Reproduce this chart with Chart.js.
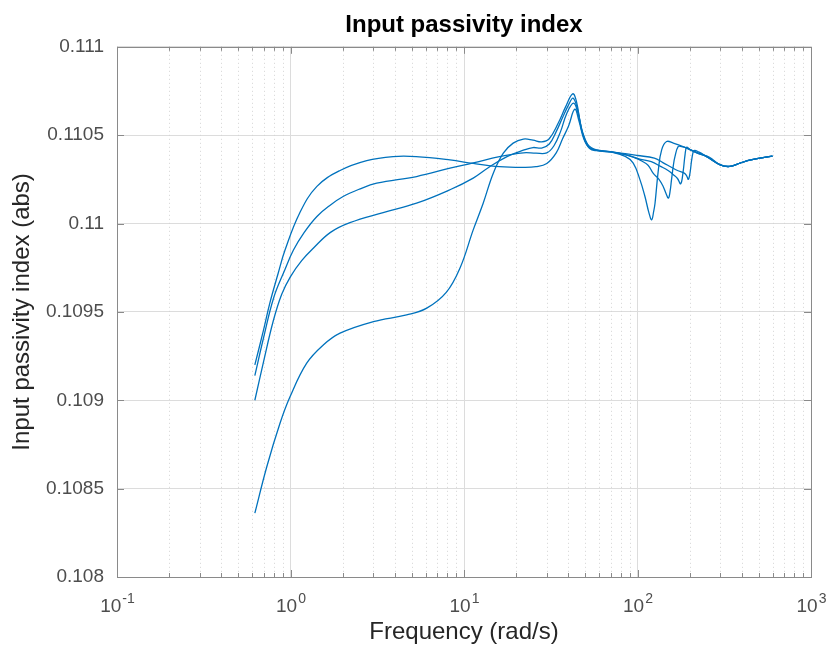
<!DOCTYPE html>
<html>
<head>
<meta charset="utf-8">
<script src="https://cdn.jsdelivr.net/npm/chart.js@4/dist/chart.umd.min.js"></script>
<style>
html, body { margin: 0; padding: 0; background: #fff; }
</style>
</head>
<body>
<canvas id="chart" width="831" height="656"></canvas>
<script>
// 4本の曲線 (周波数 rad/s と index 値)
var freqA = [0.623,0.70,0.76,0.85,0.93,1.13,1.42,1.93,2.75,3.9,5.3,8.3,11.3,16,22,26,30,34,37,40,43.5,46,49,53,58,70,85,100,125,140,154,170,186,192,196.4,201,206,212,225,250,300,340,390,450,600];
var valA = [0.10920,0.10940,0.10955,0.10972,0.10985,0.11006,0.11021,0.11030,0.110356,0.110379,0.110379,0.11036,0.11034,0.110322,0.110318,0.110322,0.11034,0.11040,0.11048,0.11055,0.110647,0.11058,0.11048,0.110425,0.110412,0.110405,0.110395,0.110385,0.11037,0.110345,0.110323,0.1103,0.110285,0.11027,0.11025,0.11029,0.11037,0.110413,0.110405,0.110379,0.110332,0.110323,0.110342,0.11036,0.110382];

var freqB = [0.623,0.70,0.80,0.92,1.04,1.2,1.42,1.7,2.01,2.5,3.14,5.33,8.3,11.3,16,22,26,30,33,36,39,42.8,45.5,48.5,53,58,70,85,103,120,136,150,161,170,177.4,183,188,192,200,230,260,300,340,390,450,600];
var valB = [0.10914,0.109355,0.10958,0.10973,0.10985,0.10995,0.11004,0.110105,0.110153,0.110195,0.110228,0.110266,0.110313,0.110343,0.110379,0.1104,0.110398,0.1104,0.11044,0.11052,0.11062,0.110681,0.11062,0.11051,0.11043,0.110414,0.110405,0.11039,0.110365,0.11035,0.110323,0.1103,0.110276,0.110255,0.110225,0.11029,0.11039,0.110432,0.11042,0.110395,0.110375,0.110332,0.110323,0.110342,0.11036,0.110381];

var freqC = [0.623,0.70,0.796,0.89,1.0,1.16,1.353,1.7,2.2,3.42,5.33,8.3,11.3,14,17.7,22,25,28,31,34,37,40,42.5,45,48,52,58,70,85,94.5,103,115,123,133,140.6,146,150.7,154,157,161,164.4,171.8,180,192,220,250,300,340,390,450,600];
var valC = [0.10900,0.10922,0.10945,0.10960,0.10970,0.10979,0.10986,0.10995,0.110005,0.110062,0.110115,0.110191,0.110257,0.11032,0.110379,0.110415,0.11043,0.110427,0.11045,0.11052,0.11060,0.11067,0.11071,0.11065,0.11052,0.110435,0.110415,0.110407,0.11039,0.110375,0.11036,0.11033,0.110285,0.11025,0.11021,0.11017,0.110144,0.11018,0.110247,0.11033,0.110379,0.110436,0.110435,0.110427,0.1104,0.110379,0.110332,0.110323,0.110342,0.11036,0.110381];

var freqD = [0.623,0.73,0.87,0.995,1.24,1.545,1.93,3.0,4.67,6.1,7.9,9.5,11.3,12.9,14.75,16.85,19.2,22,25,28,31,35,38.5,42.3,44.5,47.6,50.5,54,58,70,85,94.5,103.4,110.4,116.5,120.7,124,126.2,131.9,137.8,147.2,160.8,186,220,250,300,340,390,450,600];
var valD = [0.108361,0.108624,0.10887,0.109021,0.10921,0.109313,0.10938,0.109445,0.109483,0.109521,0.10961,0.10975,0.109964,0.110115,0.110285,0.110398,0.110455,0.110478,0.110472,0.110462,0.11048,0.11057,0.11066,0.110734,0.11069,0.11053,0.11046,0.11043,0.110417,0.110405,0.11038,0.110342,0.110247,0.110153,0.110059,0.110021,0.11007,0.110115,0.110304,0.110417,0.110464,0.110455,0.110432,0.1104,0.110379,0.110332,0.110323,0.110342,0.11036,0.110381];

// 軸目盛
var xTickValues = [0.1, 1, 10, 100, 1000];
var xTickExp = ['-1', '0', '1', '2', '3'];
var yTickValues = [0.108, 0.1085, 0.109, 0.1095, 0.11, 0.1105, 0.111];
var yTickLabels = ['0.108', '0.1085', '0.109', '0.1095', '0.11', '0.1105', '0.111'];

var FONT = "'Liberation Sans', Arial, sans-serif";
var LINE = '#0072BD';
var AXIS = '#8a8a8a';

function toPoints(xs, ys) {
    var pts = [];
    for (var i = 0; i < xs.length; i++) {
        pts.push({ x: xs[i], y: ys[i] });
    }
    return pts;
}

function minorValues() {
    var vals = [];
    for (var d = 0; d < xTickValues.length - 1; d++) {
        for (var k = 2; k <= 9; k++) {
            vals.push(xTickValues[d] * k);
        }
    }
    return vals;
}

// MATLAB風の補助グリッド・枠・内向き目盛・10^n ラベル
var matlabAxes = {
    id: 'matlabAxes',
    beforeDatasetsDraw: function (c) {
        var ctx = c.ctx, a = c.chartArea, xs = c.scales.x;
        ctx.save();
        ctx.strokeStyle = '#d4d4d4';
        ctx.lineWidth = 1;
        ctx.setLineDash([1, 3]);
        minorValues().forEach(function (v) {
            var px = Math.round(xs.getPixelForValue(v)) + 0.5;
            ctx.beginPath();
            ctx.moveTo(px, a.top);
            ctx.lineTo(px, a.bottom);
            ctx.stroke();
        });
        ctx.restore();
    },
    afterDraw: function (c) {
        var ctx = c.ctx, a = c.chartArea, xs = c.scales.x, ys = c.scales.y;
        ctx.save();
        ctx.strokeStyle = AXIS;
        ctx.lineWidth = 1;
        ctx.beginPath();
        // x 目盛 (上下)
        xTickValues.forEach(function (v) {
            var px = Math.round(xs.getPixelForValue(v)) + 0.5;
            ctx.moveTo(px, a.bottom); ctx.lineTo(px, a.bottom - 7);
            ctx.moveTo(px, a.top); ctx.lineTo(px, a.top + 7);
        });
        minorValues().forEach(function (v) {
            var px = Math.round(xs.getPixelForValue(v)) + 0.5;
            ctx.moveTo(px, a.bottom); ctx.lineTo(px, a.bottom - 4);
            ctx.moveTo(px, a.top); ctx.lineTo(px, a.top + 4);
        });
        // y 目盛 (左右)
        yTickValues.forEach(function (v) {
            var py = Math.round(ys.getPixelForValue(v)) + 0.5;
            ctx.moveTo(a.left, py); ctx.lineTo(a.left + 7, py);
            ctx.moveTo(a.right, py); ctx.lineTo(a.right - 7, py);
        });
        ctx.stroke();
        ctx.strokeRect(Math.round(a.left) + 0.5, Math.round(a.top) + 0.5,
            Math.round(a.right - a.left), Math.round(a.bottom - a.top));

        // 10^n ラベル
        ctx.fillStyle = '#4d4d4d';
        ctx.textBaseline = 'alphabetic';
        ctx.textAlign = 'left';
        xTickValues.forEach(function (v, i) {
            var px = xs.getPixelForValue(v);
            ctx.font = '19px ' + FONT;
            var wBase = ctx.measureText('10').width;
            ctx.font = '14px ' + FONT;
            var wExp = ctx.measureText(xTickExp[i]).width;
            var x0 = px - (wBase + wExp) / 2;
            ctx.font = '19px ' + FONT;
            ctx.fillText('10', x0, a.bottom + 35);
            ctx.font = '14px ' + FONT;
            ctx.fillText(xTickExp[i], x0 + wBase + 1, a.bottom + 26);
        });
        ctx.restore();
    }
};

var ctx = document.getElementById('chart').getContext('2d');
var chart = new Chart(ctx, {
    type: 'line',
    data: {
        datasets: [
            { data: toPoints(freqA, valA) },
            { data: toPoints(freqB, valB) },
            { data: toPoints(freqC, valC) },
            { data: toPoints(freqD, valD) }
        ]
    },
    options: {
        responsive: false,
        animation: false,
        layout: { padding: { left: 0, right: 20, top: 0, bottom: 0 } },
        elements: {
            line: { borderColor: LINE, borderWidth: 1.3, tension: 0.4, fill: false },
            point: { radius: 0 }
        },
        plugins: {
            legend: { display: false },
            tooltip: { enabled: false },
            title: {
                display: true,
                text: 'Input passivity index',
                color: '#000',
                fullSize: false,
                font: { family: FONT, size: 24, weight: 'bold' },
                padding: { top: 11, bottom: 7 }
            }
        },
        scales: {
            x: {
                type: 'logarithmic',
                min: 0.1,
                max: 1000,
                afterBuildTicks: function (s) {
                    s.ticks = xTickValues.map(function (v) { return { value: v }; });
                },
                afterFit: function (s) { s.height = 79; },
                ticks: { display: false },
                grid: { color: '#dcdcdc', drawTicks: false },
                border: { display: false },
                title: {
                    display: true,
                    text: 'Frequency (rad/s)',
                    color: '#262626',
                    font: { family: FONT, size: 24 },
                    padding: { top: 30, bottom: 9 }
                }
            },
            y: {
                type: 'linear',
                min: 0.108,
                max: 0.111,
                afterBuildTicks: function (s) {
                    s.ticks = yTickValues.map(function (v) { return { value: v }; });
                },
                afterFit: function (s) { s.width = 117; },
                ticks: {
                    color: '#4d4d4d',
                    font: { family: FONT, size: 19 },
                    padding: 13,
                    callback: function (v, i) { return yTickLabels[i]; }
                },
                grid: { color: '#dcdcdc', drawTicks: false },
                border: { display: false },
                title: {
                    display: true,
                    text: 'Input passivity index (abs)',
                    color: '#262626',
                    font: { family: FONT, size: 24 },
                    padding: { top: 8, bottom: 0 }
                }
            }
        }
    },
    plugins: [matlabAxes]
});
</script>
</body>
</html>
